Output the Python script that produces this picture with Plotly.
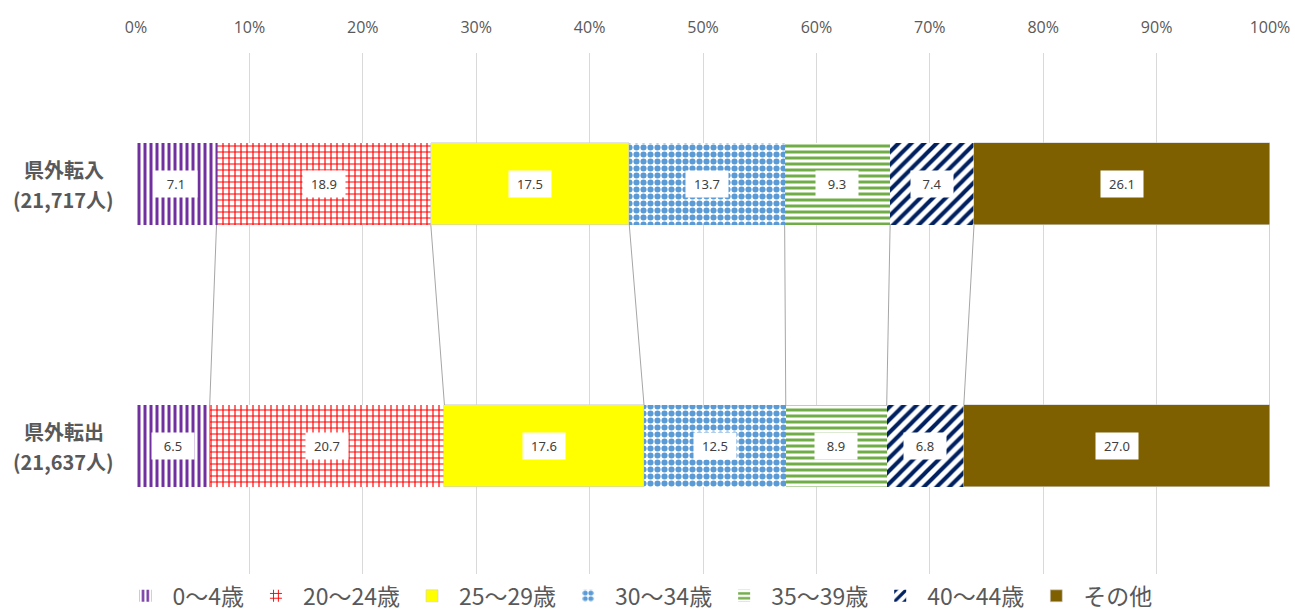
import plotly.graph_objects as go

# データ
rows = ["県外転入", "県外転出"]
row_totals = ["21,717人", "21,637人"]
age_groups = ["0～4歳", "20～24歳", "25～29歳", "30～34歳", "35～39歳", "40～44歳", "その他"]
tennyu = [7.1, 18.9, 17.5, 13.7, 9.3, 7.4, 26.1]
tenshutsu = [6.5, 20.7, 17.6, 12.5, 8.9, 6.8, 27.0]
x_ticks = [0, 10, 20, 30, 40, 50, 60, 70, 80, 90, 100]

# 塗りつぶし (色, パターン)
styles = [
    dict(color="#7030A0", shape="|", size=6, solidity=0.5),
    dict(color="#FF0000", shape="+", size=6, solidity=0.35),
    dict(color="#FFFF00", shape="", size=6, solidity=0.5),
    dict(color="#5B9BD5", shape=".", size=7, solidity=0.6),
    dict(color="#70AD47", shape="-", size=6, solidity=0.5),
    dict(color="#002060", shape="/", size=9, solidity=0.45),
    dict(color="#7F6000", shape="", size=6, solidity=0.5),
]

BAR_W = 0.313
FONT_JP = "Noto Sans CJK JP"
GRAY = "#595959"

fig = go.Figure()

for i, name in enumerate(age_groups):
    st = styles[i]
    if st["shape"]:
        marker = dict(
            color="white",
            pattern=dict(shape=st["shape"], fgcolor=st["color"], bgcolor="white",
                         size=st["size"], solidity=st["solidity"], fillmode="replace"),
            line=dict(width=0),
        )
    else:
        marker = dict(color=st["color"], line=dict(width=0.6, color="#d0d0d0"))
    fig.add_trace(go.Bar(
        name=name,
        x=[tennyu[i], tenshutsu[i]],
        y=[0, 1],
        orientation="h",
        width=BAR_W,
        marker=marker,
        hoverinfo="x+name",
    ))

# 系列線
cum_in, cum_out = 0.0, 0.0
for i in range(len(age_groups)):
    cum_in += tennyu[i]
    cum_out += tenshutsu[i]
    fig.add_trace(go.Scatter(
        x=[cum_in, cum_out],
        y=[0 + BAR_W / 2, 1 - BAR_W / 2],
        mode="lines",
        line=dict(color="#a6a6a6", width=1),
        showlegend=False,
        hoverinfo="skip",
    ))

# データラベル
annotations = []
for r, vals in enumerate([tennyu, tenshutsu]):
    cum = 0.0
    for v in vals:
        annotations.append(dict(
            x=cum + v / 2, y=r, xref="x", yref="y",
            text=f"{v:.1f}", showarrow=False,
            font=dict(size=13, color="#404040", family="Noto Sans"),
            bgcolor="white", width=40, height=24,
        ))
        cum += v

# 行ラベル (2行を別々に配置)
for r, (name, tot) in enumerate(zip(rows, row_totals)):
    for txt, shift in [(name, 15), (f"({tot})", -15)]:
        annotations.append(dict(
            x=-0.0635, y=r, xref="paper", yref="y", yshift=shift,
            xanchor="center", yanchor="middle",
            text=f"<b>{txt}</b>", showarrow=False,
            font=dict(size=20, color=GRAY, family=FONT_JP),
        ))

fig.update_layout(
    width=1295,
    height=615,
    margin=dict(l=136, r=25, t=53, b=38, autoexpand=False),
    plot_bgcolor="white",
    paper_bgcolor="white",
    barmode="stack",
    bargap=0,
    annotations=annotations,
    showlegend=True,
    legend=dict(
        orientation="h", x=-0.0155, xanchor="left",
        y=-0.036, yanchor="middle",
        font=dict(size=23, color=GRAY, family=FONT_JP),
        traceorder="normal", itemwidth=44,
    ),
    xaxis=dict(
        side="top", range=[0, 100], tickvals=x_ticks,
        ticktext=[f"{t}%" for t in x_ticks],
        showgrid=True, gridcolor="#d9d9d9", gridwidth=1, zeroline=False,
        showline=False, ticks="", ticklabelstandoff=16,
        tickfont=dict(size=16, color=GRAY, family="Open Sans"),
    ),
    yaxis=dict(
        range=[1.5, -0.5], showticklabels=False, showgrid=False,
        zeroline=False, showline=False, ticks="",
    ),
    font=dict(family=FONT_JP),
)

# ページ余白をなくす
fig.write_html("out.html", config={"displayModeBar": False},
               post_script="document.body.style.margin='0';")
